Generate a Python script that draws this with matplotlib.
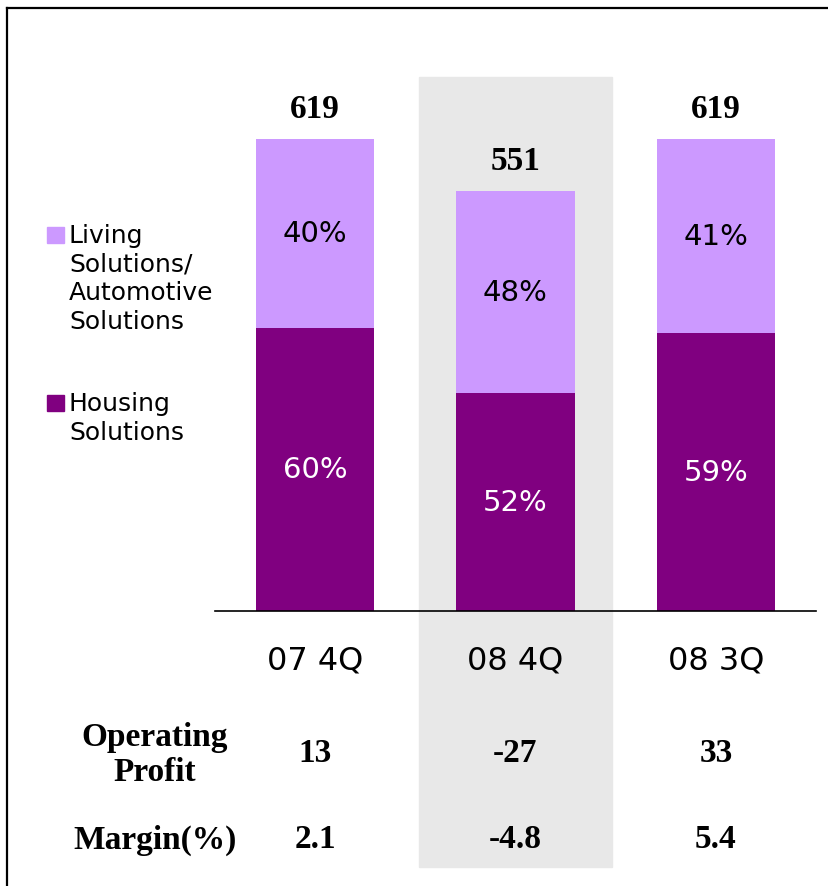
import matplotlib
matplotlib.use("Agg")
import matplotlib.pyplot as plt
import matplotlib.transforms as mtransforms
from matplotlib.patches import Rectangle
from matplotlib.lines import Line2D

# data
categories = ["07 4Q", "08 4Q", "08 3Q"]
totals = [619, 551, 619]
housing_pct = [60, 52, 59]
living_pct = [40, 48, 41]
op_profit = ["13", "-27", "33"]
margin = ["2.1", "-4.8", "5.4"]
highlight = 1

dark = "#800080"
light = "#CC99FF"
band = "#E8E8E8"
sans = "DejaVu Sans"
serif = "Liberation Serif"

W, H = 829, 887
fig = plt.figure(figsize=(W / 100, H / 100), dpi=100)

def fx(px):
    return px / W

def fy(px):
    return 1 - px / H

# axes: baseline at y=612px, from x=215 to 816
ax = fig.add_axes([fx(215), fy(612), (816 - 215) / W, (612 - 78) / H])
ax.set_facecolor("none")
ax.set_xlim(-0.5, 2.5)
ax.set_ylim(0, 534 / (472 / 619))

x = list(range(len(categories)))
housing = [t * p / 100 for t, p in zip(totals, housing_pct)]
living = [t - h for t, h in zip(totals, housing)]
bw = 0.59

ax.bar(x, housing, bw, color=dark, zorder=2)
ax.bar(x, living, bw, bottom=housing, color=light, zorder=2)

# highlighted column
trans = mtransforms.blended_transform_factory(ax.transData, fig.transFigure)
ax.add_patch(Rectangle((highlight - 0.483, fy(868)), 0.966, fy(78) - fy(868),
                       transform=trans, color=band, zorder=0, clip_on=False))

for i in x:
    ax.text(i, housing[i] / 2, f"{housing_pct[i]}%", ha="center", va="center",
            color="white", fontsize=21, family=sans, zorder=3)
    ax.text(i, housing[i] + living[i] / 2, f"{living_pct[i]}%", ha="center", va="center",
            color="black", fontsize=21, family=sans, zorder=3)
    ax.annotate(str(totals[i]), (i, totals[i]), xytext=(0, 11), textcoords="offset points",
                ha="center", va="bottom", fontsize=24, fontweight="bold", family=serif)
    ax.text(i, fy(754), op_profit[i], transform=trans, ha="center", va="center",
            fontsize=24, fontweight="bold", family=serif)
    ax.text(i, fy(840), margin[i], transform=trans, ha="center", va="center",
            fontsize=24, fontweight="bold", family=serif)

for s in ["top", "right", "left"]:
    ax.spines[s].set_visible(False)
ax.spines["bottom"].set_linewidth(1.2)
ax.set_yticks([])
ax.set_xticks(x)
ax.set_xticklabels(categories, fontsize=23, family=sans)
ax.tick_params(axis="x", length=0, pad=24)

# row headers
fig.text(fx(155), fy(755), "Operating\nProfit", ha="center", va="center",
         fontsize=24, fontweight="bold", family=serif, linespacing=1.2)
fig.text(fx(155), fy(840), "Margin(%)", ha="center", va="center",
         fontsize=24, fontweight="bold", family=serif)

# legend
fig.patches.append(Rectangle((fx(47), fy(244)), 17 / W, 16 / H, transform=fig.transFigure,
                             color=light))
fig.text(fx(69), fy(224), "Living\nSolutions/\nAutomotive\nSolutions", ha="left", va="top",
         fontsize=18, family=sans, linespacing=1.25)
fig.patches.append(Rectangle((fx(47), fy(412)), 17 / W, 16 / H, transform=fig.transFigure,
                             color=dark))
fig.text(fx(69), fy(392), "Housing\nSolutions", ha="left", va="top",
         fontsize=18, family=sans, linespacing=1.25)

# frame
fig.add_artist(Line2D([fx(7), 1], [fy(8.5), fy(8.5)], color="black", lw=1.6))
fig.add_artist(Line2D([fx(7), fx(7)], [fy(8.5), 0], color="black", lw=1.6))

fig.savefig("out.png", dpi=100)
